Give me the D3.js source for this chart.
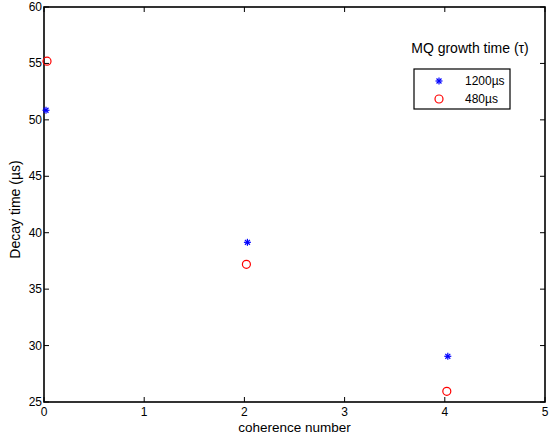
<!DOCTYPE html>
<html><head><meta charset="utf-8">
<script src="https://cdn.jsdelivr.net/npm/d3@7/dist/d3.min.js"></script>
<style>body{margin:0;background:#fff}svg{display:block}text{font-family:"Liberation Sans",Arial,sans-serif;fill:#000}</style>
</head><body><svg id="c" width="549" height="436"></svg>
<script>
const xTicks = [0,1,2,3,4,5];
const yTicks = [25,30,35,40,45,50,55,60];
const series1Name = "1200\u00b5s";
const series1X = [0.02, 2.03, 4.03];
const series1Y = [50.85, 39.15, 29.05];
const series2Name = "480\u00b5s";
const series2X = [0.03, 2.02, 4.02];
const series2Y = [55.2, 37.2, 25.95];
const xLabel = "coherence number";
const yLabel = "Decay time (\u00b5s)";
const legendTitle = "MQ growth time (\u03c4)";

const svg = d3.select("#c");
const L=44, R=545, T=7, B=402;
const x = d3.scaleLinear().domain([0,5]).range([L,R]);
const y = d3.scaleLinear().domain([25,60]).range([B,T]);

const tl = 5;
const g = svg.append("g");
xTicks.forEach(t=>{
  g.append("line").attr("x1",x(t)).attr("x2",x(t)).attr("y1",B).attr("y2",B-tl).attr("stroke","#000");
  g.append("line").attr("x1",x(t)).attr("x2",x(t)).attr("y1",T).attr("y2",T+tl).attr("stroke","#000");
  g.append("text").attr("x",x(t)).attr("y",B+14).attr("text-anchor","middle").attr("font-size",12).text(t);
});
yTicks.forEach(t=>{
  g.append("line").attr("x1",L).attr("x2",L+tl).attr("y1",y(t)).attr("y2",y(t)).attr("stroke","#000");
  g.append("line").attr("x1",R).attr("x2",R-tl).attr("y1",y(t)).attr("y2",y(t)).attr("stroke","#000");
  g.append("text").attr("x",L-2).attr("y",y(t)+4).attr("text-anchor","end").attr("font-size",12).text(t);
});
g.append("rect").attr("x",L).attr("y",T).attr("width",R-L).attr("height",B-T).attr("fill","none").attr("stroke","#000").attr("stroke-width",1.6);

svg.append("text").attr("x",(L+R)/2).attr("y",432).attr("text-anchor","middle").attr("font-size",13.5).text(xLabel);
svg.append("text").attr("transform",`translate(20,${(T+B)/2+5}) rotate(-90)`).attr("text-anchor","middle").attr("font-size",14).text(yLabel);

function star(gg,cx,cy,col){
  const r=3.5;
  [0,45,90,135].forEach(a=>{
    const rad=a*Math.PI/180;
    gg.append("line").attr("x1",cx-r*Math.cos(rad)).attr("y1",cy-r*Math.sin(rad))
      .attr("x2",cx+r*Math.cos(rad)).attr("y2",cy+r*Math.sin(rad)).attr("stroke",col).attr("stroke-width",1.2);
  });
}
function circ(gg,cx,cy,col){
  gg.append("circle").attr("cx",cx).attr("cy",cy).attr("r",4).attr("fill","none").attr("stroke",col).attr("stroke-width",1.2);
}
const pts = svg.append("g");
series1X.forEach((v,i)=>star(pts,x(v),y(series1Y[i]),"#0000ff"));
series2X.forEach((v,i)=>circ(pts,x(v),y(series2Y[i]),"#ff0000"));

svg.append("text").attr("x",470).attr("y",53).attr("text-anchor","middle").attr("font-size",14).text(legendTitle);
svg.append("rect").attr("x",414).attr("y",69).attr("width",96).attr("height",40).attr("fill","#fff").attr("stroke","#000").attr("stroke-width",1.2);
star(svg,439,81,"#0000ff");
svg.append("text").attr("x",465).attr("y",85).attr("font-size",12).text(series1Name);
circ(svg,439,99,"#ff0000");
svg.append("text").attr("x",465).attr("y",103).attr("font-size",12).text(series2Name);
</script></body></html>
